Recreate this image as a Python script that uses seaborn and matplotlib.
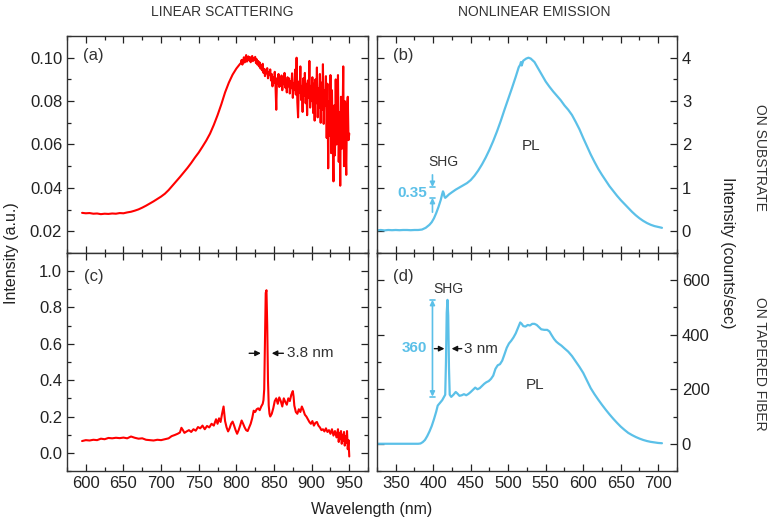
import numpy as np
import matplotlib
matplotlib.use('Agg')
import matplotlib.pyplot as plt
import seaborn as sns
from matplotlib.ticker import MultipleLocator

# ---- data ----

# (a) linear scattering, on substrate
wl_a_smooth = [595, 600, 605, 610, 615, 620, 625, 630, 635, 640, 645, 650, 655, 660, 665, 670, 675,
               680, 685, 690, 695, 700, 705, 710, 715, 720, 725, 730, 735, 740, 745, 750, 755,
               760, 765, 770, 775, 780, 785, 790, 795, 800, 805]
int_a_smooth = [.0285, .0283, .0284, .0281, .0282, .0279, .0281, .0280, .0282, .0281, .0284, .0283,
                .0287, .0290, .0295, .0301, .0309, .0318, .0328, .0338, .0349, .0360, .0373, .0390,
                .0410, .0430, .0450, .0471, .0492, .0515, .0540, .0563, .0590, .0618, .0650, .0690,
                .0735, .0785, .0840, .0885, .0922, .0950, .0972]
wl_a_noisy = list(range(806, 951))
int_a_noisy = [
    .0975, .0990, .0968, .0985, .1002, .0978, .0995, .1012, .0982, .0998, .1006, .0987, .1003,
    .0979, .0996, .1008, .0984, .0999, .0990, .1004, .0975, .0993, .0968, .0985, .0960,
    .0978, .0950, .0965, .0942, .0972, .0930, .0948, .0915, .0945, .0928, .0952, .0905, .0935,
    .0920, .0946,
    .0895, .0925, .0868, .0910, .0885, .0935, .0870, .0760, .0905, .0880, .0925, .0865, .0898,
    .0872, .0918, .0850, .0900, .0878, .0930, .0862, .0895, .0840, .0910, .0868, .0905,
    .0835, .0892, .0860, .0928, .0815, .0880, .0852, .0945, .0830, .1000, .0795, .0725, .0890,
    .0840, .0960, .0805, .0870, .0750, .0905, .0825, .0930, .0790, .0880, .0735, .0895, .0815,
    .0985, .0770, .0870, .0800,
    .0910, .0745, .0880, .0710, .0900, .0790, .0955, .0725, .0860, .0770, .0925, .0700, .0885,
    .0760, .0970, .0695, .0850, .0780, .0915, .0630, .0880, .0490, .0800, .0640, .0920,
    .0560, .0850, .0620, .0430, .0780, .0550, .0900, .0600, .0700, .0920, .0520, .0750, .0410,
    .0820, .0580, .0700, .0960, .0500, .0800, .0600, .0460, .0780, .0820, .0620, .0650]
wl_a = wl_a_smooth + wl_a_noisy
int_a = int_a_smooth + int_a_noisy

# (c) linear scattering, on tapered fiber
wl_c = [595, 600, 605, 610, 615, 620, 625, 630, 635, 640, 645, 650, 655, 660, 665, 670, 675, 680,
        685, 690, 695, 700, 705, 710, 714, 718, 722, 725, 727, 729, 731, 734, 737, 740, 743, 746,
        749, 752, 755, 758, 761, 764, 767, 770, 773, 775, 777, 779, 781, 783, 785, 787, 789, 791,
        793, 795, 797, 799, 801, 803, 805, 807, 809, 811, 813, 815, 817, 819, 821, 823, 825, 827,
        829, 831, 833, 835, 836, 837, 838, 839, 840, 841, 842, 843, 844, 845, 847, 849, 851, 853,
        855, 857, 859, 861, 863, 865, 867, 869, 871, 873, 875, 876, 877, 879, 881, 883, 885, 887,
        889, 891, 893, 895, 897, 899, 901, 903, 905, 907, 909, 911, 913, 915, 917, 919, 921, 923,
        925, 927, 929, 931, 933, 935, 936, 937, 938, 939, 940, 941, 942, 943, 944, 945, 946, 947,
        948, 949, 950]
int_c = [.065, .070, .068, .072, .070, .078, .075, .082, .080, .083, .081, .084, .080, .090, .083,
         .078, .080, .072, .070, .068, .072, .070, .075, .080, .092, .098, .105, .112, .138, .125,
         .110, .118, .125, .115, .130, .122, .142, .135, .150, .130, .148, .140, .160, .150, .185,
         .160, .190, .170, .215, .255, .175, .140, .118, .135, .160, .172, .150, .125, .105, .125,
         .150, .178, .160, .140, .125, .120, .140, .160, .190, .232, .225, .240, .245, .235, .255,
         .270, .290, .350, .600, .880, .895, .700, .400, .260, .215, .200, .215, .245, .285, .300,
         .270, .305, .285, .255, .300, .280, .265, .300, .285, .320, .340, .310, .260, .225, .215,
         .240, .225, .255, .235, .210, .200, .185, .170, .160, .175, .150, .165, .170, .150, .140,
         .125, .130, .118, .135, .115, .125, .105, .130, .095, .120, .085, .130, .060, .110, .075,
         .120, .050, .100, .065, .115, .040, .090, .055, .120, .020, .070, -.020]

# (b) nonlinear emission, on substrate
wl_b = [325, 330, 335, 340, 345, 350, 355, 360, 365, 370, 375, 380, 385, 390, 395, 398, 401, 404,
        407, 410, 412, 413, 414, 415, 416, 418, 421, 425, 430, 435, 440, 445, 450, 455, 460, 465,
        470, 475, 480, 485, 490, 495, 500, 505, 510, 514, 516, 517, 518, 520, 524, 527, 530, 535,
        540, 545, 550, 555, 560, 565, 570, 575, 580, 585, 590, 595, 600, 605, 610, 615, 620, 625,
        630, 635, 640, 645, 650, 655, 660, 665, 670, 675, 680, 685, 690, 695, 700, 705]
int_b = [.02, .03, .02, .03, .025, .03, .025, .03, .03, .025, .03, .03, .04, .08, .15, .21, .30,
         .42, .56, .72, .86, .92, .88, .80, .77, .80, .85, .90, .96, 1.01, 1.06, 1.11, 1.18, 1.28,
         1.40, 1.54, 1.70, 1.88, 2.08, 2.30, 2.54, 2.80, 3.05, 3.30, 3.56, 3.78, 3.84, 3.90, 3.82,
         3.93, 3.98, 4.00, 3.98, 3.90, 3.75, 3.60, 3.45, 3.33, 3.22, 3.12, 3.02, 2.90, 2.80, 2.68,
         2.52, 2.35, 2.15, 1.96, 1.77, 1.60, 1.44, 1.30, 1.17, 1.04, .93, .82, .72, .63, .54, .45,
         .37, .30, .24, .19, .15, .12, .10, .08]

# (d) nonlinear emission, on tapered fiber
wl_d = [325, 340, 360, 380, 383, 386, 389, 392, 395, 398, 401, 404, 406, 409, 412, 414, 416, 417,
        418, 419, 420, 421, 422, 424, 427, 430, 432, 435, 438, 441, 444, 447, 450, 453, 456, 459,
        462, 465, 468, 471, 474, 477, 480, 483, 486, 489, 492, 495, 498, 501, 504, 507, 510, 513,
        516, 518, 520, 523, 526, 529, 532, 535, 538, 541, 544, 548, 552, 555, 558, 561, 564, 567,
        571, 575, 580, 585, 590, 595, 600, 605, 610, 615, 620, 625, 630, 635, 640, 645, 650, 655,
        660, 665, 670, 675, 680, 685, 690, 695, 700, 705]
int_d = [0, 0, 0, 0, 1, 6, 14, 28, 45, 65, 90, 118, 140, 150, 160, 170, 180, 300, 480, 528, 470,
         280, 180, 172, 180, 190, 185, 176, 178, 182, 178, 183, 190, 198, 206, 200, 204, 212, 220,
         226, 230, 238, 250, 275, 288, 292, 305, 328, 352, 368, 378, 390, 405, 425, 445, 440, 432,
         430, 436, 434, 440, 440, 436, 428, 420, 418, 418, 412, 398, 385, 375, 368, 360, 350, 338,
         322, 302, 282, 260, 232, 204, 182, 162, 143, 125, 108, 92, 77, 63, 51, 40, 32, 25, 19,
         14, 10, 7, 5, 3, 2]

red = '#ff0000'
cyan = '#5bc0e8'
grey = '#333333'

sns.set_theme(style='ticks')
plt.rcParams['font.family'] = ['Liberation Sans', 'DejaVu Sans']

fig = plt.figure(figsize=(7.72, 5.24), dpi=100)
ax_a = fig.add_axes([0.0868, 0.5172, 0.390, 0.4141])
ax_c = fig.add_axes([0.0868, 0.1011, 0.390, 0.4161])
ax_b = fig.add_axes([0.4883, 0.5172, 0.3886, 0.4141])
ax_d = fig.add_axes([0.4883, 0.1011, 0.3886, 0.4161])

sns.lineplot(x=wl_a, y=int_a, ax=ax_a, color=red, lw=1.5)
sns.lineplot(x=wl_c, y=int_c, ax=ax_c, color=red, lw=1.5)
sns.lineplot(x=wl_b, y=int_b, ax=ax_b, color=cyan, lw=1.6)
sns.lineplot(x=wl_d, y=int_d, ax=ax_d, color=cyan, lw=1.6)

ax_a.set(xlim=(575, 975), ylim=(0.010, 0.110))
ax_c.set(xlim=(575, 975), ylim=(-0.1, 1.1))
ax_b.set(xlim=(325, 725), ylim=(-0.5, 4.5))
ax_d.set(xlim=(325, 725), ylim=(-100, 700))

ax_a.yaxis.set_major_locator(MultipleLocator(0.02))
ax_a.yaxis.set_minor_locator(MultipleLocator(0.01))
ax_c.yaxis.set_major_locator(MultipleLocator(0.2))
ax_c.yaxis.set_minor_locator(MultipleLocator(0.1))
ax_b.yaxis.set_major_locator(MultipleLocator(1))
ax_b.yaxis.set_minor_locator(MultipleLocator(0.5))
ax_d.yaxis.set_major_locator(MultipleLocator(200))
ax_d.yaxis.set_minor_locator(MultipleLocator(100))
ax_c.yaxis.set_major_formatter(matplotlib.ticker.FormatStrFormatter('%.1f'))

for ax in (ax_a, ax_b, ax_c, ax_d):
    ax.xaxis.set_major_locator(MultipleLocator(50))
    ax.xaxis.set_minor_locator(MultipleLocator(25))
    ax.tick_params(which='both', direction='in', top=True, right=True, left=True, bottom=True,
                   colors='#222222', labelsize=12, width=0.9)
    ax.tick_params(which='major', length=5)
    ax.tick_params(which='minor', length=3)
    ax.set_xlabel('')
    ax.set_ylabel('')
    for s in ax.spines.values():
        s.set_color('#333333')
        s.set_linewidth(1.0)

for ax in (ax_a, ax_b):
    ax.tick_params(labelbottom=False)
for ax in (ax_b, ax_d):
    ax.tick_params(labelleft=False, labelright=True)

# panel labels
ax_a.text(610, 0.1008, '(a)', fontsize=12, color=grey, ha='center', va='center')
ax_c.text(610, 0.973, '(c)', fontsize=12, color=grey, ha='center', va='center')
ax_b.text(360, 4.04, '(b)', fontsize=12, color=grey, ha='center', va='center')
ax_d.text(360, 613, '(d)', fontsize=12, color=grey, ha='center', va='center')

# (c) linewidth marker
arr = dict(arrowstyle='-|>', color='#111111', lw=1.0, mutation_scale=8, shrinkA=0, shrinkB=0)
ax_c.annotate('', xy=(832.5, 0.548), xytext=(817, 0.548), arrowprops=arr)
ax_c.annotate('', xy=(847, 0.548), xytext=(862.5, 0.548), arrowprops=arr)
ax_c.text(867, 0.548, '3.8 nm', fontsize=11, color=grey, va='center')

# (b) SHG step marker
carr = dict(arrowstyle='-|>', color=cyan, lw=1.2, mutation_scale=7, shrinkA=0, shrinkB=0)
ax_b.annotate('', xy=(399, 1.02), xytext=(399, 1.30), arrowprops=carr)
ax_b.annotate('', xy=(399, 0.77), xytext=(399, 0.44), arrowprops=carr)
ax_b.plot([396, 402], [1.02, 1.02], color=cyan, lw=1.2)
ax_b.plot([396, 402], [0.77, 0.77], color=cyan, lw=1.2)
ax_b.text(392, 0.88, '0.35', fontsize=11, color=cyan, fontweight='bold', ha='right', va='center')
ax_b.text(413.5, 1.6, 'SHG', fontsize=10, color=grey, ha='center', va='center')
ax_b.text(530, 1.96, 'PL', fontsize=11, color=grey, ha='center', va='center')

# (d) SHG peak marker
ax_d.annotate('', xy=(399, 528), xytext=(399, 173),
              arrowprops=dict(arrowstyle='<|-|>', color=cyan, lw=1.2, mutation_scale=7,
                              shrinkA=0, shrinkB=0))
ax_d.plot([396, 402], [528, 528], color=cyan, lw=1.2)
ax_d.plot([396, 402], [173, 173], color=cyan, lw=1.2)
ax_d.text(392, 352, '360', fontsize=11, color=cyan, fontweight='bold', ha='right', va='center')
ax_d.annotate('', xy=(415, 349), xytext=(401.5, 349), arrowprops=arr)
ax_d.annotate('', xy=(424.5, 349), xytext=(438, 349), arrowprops=arr)
ax_d.text(441, 349, '3 nm', fontsize=11, color=grey, va='center')
ax_d.text(420.6, 567, 'SHG', fontsize=10, color=grey, ha='center', va='center')
ax_d.text(536, 216, 'PL', fontsize=11, color=grey, ha='center', va='center')

# figure texts
fig.text(0.2876, 0.977, 'LINEAR SCATTERING', fontsize=10, color=grey, ha='center', va='center')
fig.text(0.692, 0.977, 'NONLINEAR EMISSION', fontsize=10, color=grey, ha='center', va='center')
fig.text(0.0155, 0.517, 'Intensity (a.u.)', fontsize=11.5, color='#222222', rotation=90,
         ha='center', va='center')
fig.text(0.942, 0.517, 'Intensity (counts/sec)', fontsize=11.5, color='#222222', rotation=270,
         ha='center', va='center')
fig.text(0.482, 0.027, 'Wavelength (nm)', fontsize=11.5, color='#222222', ha='center', va='center')
fig.text(0.984, 0.70, 'ON SUBSTRATE', fontsize=10, color=grey, rotation=270, ha='center', va='center')
fig.text(0.984, 0.305, 'ON TAPERED FIBER', fontsize=10, color=grey, rotation=270,
         ha='center', va='center')

fig.savefig('out.png', dpi=100)
